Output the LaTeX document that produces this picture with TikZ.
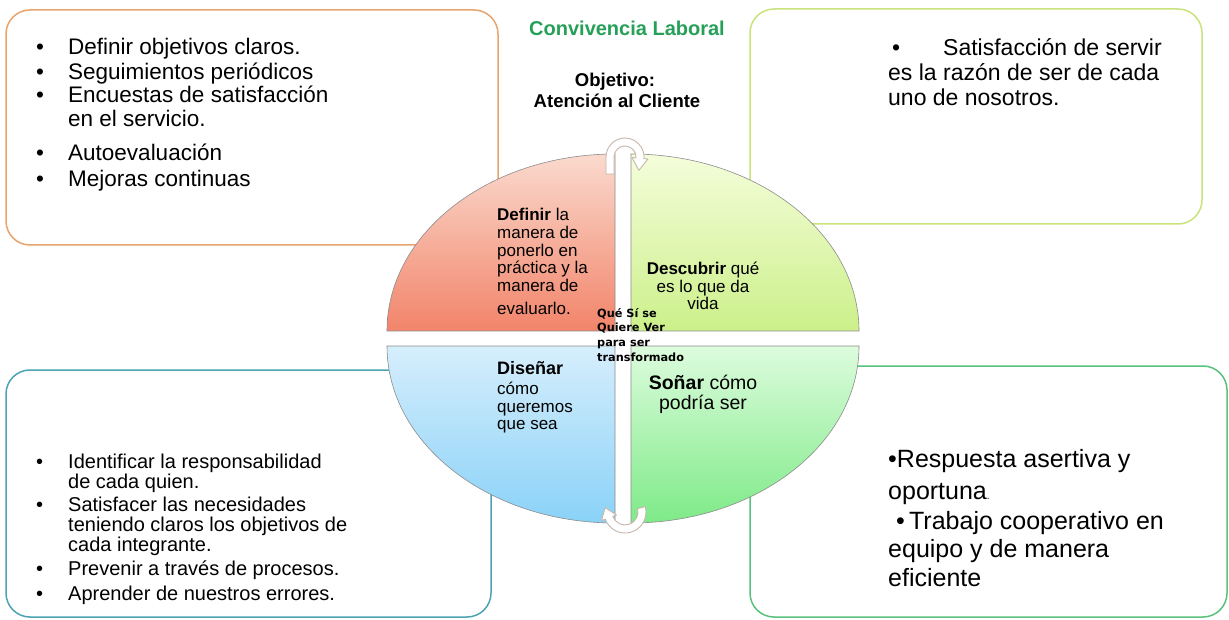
\documentclass[tikz,border=0pt]{standalone}
\usepackage{fontspec}
\setmainfont{Liberation Sans}
\newfontfamily\heavyfont{DejaVu Sans}
\definecolor{boxTL}{RGB}{233,163,108}
\definecolor{boxTR}{RGB}{201,227,122}
\definecolor{boxBL}{RGB}{75,163,179}
\definecolor{boxBR}{RGB}{88,194,124}
\definecolor{titlegreen}{RGB}{38,160,88}
\definecolor{qTLtop}{RGB}{250,218,206}
\definecolor{qTLbot}{RGB}{242,132,106}
\definecolor{qTRtop}{RGB}{244,253,218}
\definecolor{qTRbot}{RGB}{204,240,138}
\definecolor{qBLtop}{RGB}{214,238,252}
\definecolor{qBLbot}{RGB}{138,210,248}
\definecolor{qBRtop}{RGB}{221,252,221}
\definecolor{qBRbot}{RGB}{126,234,136}
\definecolor{qedge}{RGB}{140,140,140}
\definecolor{arrowedge}{RGB}{200,182,172}
\begin{document}
\begin{tikzpicture}[x=1pt,y=-1pt,
  panel/.style={line width=1.5pt, rounded corners=24pt},
  quad/.style={draw=qedge, line width=0.6pt},
  uarrow/.style={fill=white, draw=arrowedge, line width=0.9pt, line join=round},
  txt/.style={inner sep=0pt, anchor=mid west},
  ctxt/.style={inner sep=0pt, anchor=mid},
  bigA/.style={font=\fontsize{22.5}{26}\selectfont},
  bigB/.style={font=\fontsize{20}{24}\selectfont},
  bigC/.style={font=\fontsize{23}{27}\selectfont},
  bigD/.style={font=\fontsize{25}{29}\selectfont},
  qtxt/.style={font=\fontsize{17}{20}\selectfont},
]
\useasboundingbox (0,0) rectangle (1229,620);
\fill[white] (0,0) rectangle (1229,620);

% outer panels
\draw[panel, draw=boxTL] (6,10) rectangle (498,245);
\draw[panel, draw=boxTR] (750,9) rectangle (1202,224);
\draw[panel, draw=boxBL] (6,370) rectangle (491,617);
\draw[panel, draw=boxBR] (750,366) rectangle (1227,617);

% quadrants
\draw[quad, top color=qTLtop, bottom color=qTLbot]
  (615,331) -- (387,331) arc[start angle=180, end angle=90, x radius=228pt, y radius=177pt] -- cycle;
\draw[quad, top color=qTRtop, bottom color=qTRbot]
  (631,331) -- (631,154) arc[start angle=90, end angle=0, x radius=228pt, y radius=177pt] -- cycle;
\draw[quad, top color=qBLtop, bottom color=qBLbot]
  (615,346) -- (387,346) arc[start angle=180, end angle=270, x radius=228pt, y radius=177pt] -- cycle;
\draw[quad, top color=qBRtop, bottom color=qBRbot]
  (631,346) -- (631,523) arc[start angle=270, end angle=360, x radius=228pt, y radius=177pt] -- cycle;

% U-turn arrows
\draw[uarrow] (614,174) -- (606,174) -- (606,157)
  arc[start angle=180, end angle=-5, radius=19pt] -- (647.9,159.0) -- (638.9,170.3)
  -- (632.0,157.6) -- (636.0,158.0) arc[start angle=-5, end angle=180, radius=11pt] -- cycle;
\draw[uarrow] (645.3,506.6) arc[start angle=15, end angle=-160, radius=21pt]
  -- (601.5,520.6) -- (605.2,507.5) -- (616.5,515.1) -- (612.8,516.4)
  arc[start angle=-160, end angle=15, radius=13pt] -- cycle;

% titles
\node[ctxt, text=titlegreen, font=\fontsize{20}{24}\selectfont\bfseries] (title) at (627,33) {Convivencia Laboral};
\node[ctxt, font=\fontsize{18.5}{22}\selectfont\bfseries] (obj1) at (615,84) {Objetivo:};
\node[ctxt, font=\fontsize{18.5}{22}\selectfont\bfseries] (obj2) at (617,105) {Atención al Cliente};

% top-left panel
\foreach \n/\y in {a/52,b/77,c/100,d/158,e/184}
  \node[txt, bigA] (tlb\n) at (36,\y) {•};
\node[txt, bigA] (tl1) at (68,52) {Definir objetivos claros.};
\node[txt, bigA] (tl2) at (68,77) {Seguimientos periódicos};
\node[txt, bigA] (tl3) at (68,100) {Encuestas de satisfacción};
\node[txt, bigA] (tl4) at (68,124) {en el servicio.};
\node[txt, bigA] (tl5) at (68,158) {Autoevaluación};
\node[txt, bigA] (tl6) at (68,184) {Mejoras continuas};

% top-right panel
\node[txt, bigC] (trb) at (892,53) {•};
\node[txt, bigC] (tr1) at (943,53) {Satisfacción de servir};
\node[txt, bigC] (tr2) at (888,78) {es la razón de ser de cada};
\node[txt, bigC] (tr3) at (888,103) {uno de nosotros.};

% bottom-left panel
\foreach \n/\y in {a/466,b/509,c/573,d/598}
  \node[txt, bigB] (blb\n) at (36,\y) {•};
\node[txt, bigB] (bl1) at (68,466) {Identificar la responsabilidad};
\node[txt, bigB] (bl2) at (68,486) {de cada quien.};
\node[txt, bigB] (bl3) at (68,509) {Satisfacer las necesidades};
\node[txt, bigB] (bl4) at (68,529) {teniendo claros los objetivos de};
\node[txt, bigB] (bl5) at (68,549) {cada integrante.};
\node[txt, bigB] (bl6) at (68,573) {Prevenir a través de procesos.};
\node[txt, bigB] (bl7) at (68,598) {Aprender de nuestros errores.};

% bottom-right panel
\node[txt, bigD] (br1) at (888,465) {•Respuesta asertiva y};
\node[txt, bigD] (br2) at (888,497) {oportuna{\fontsize{10}{12}\selectfont.}};
\node[txt, bigD] (br3) at (896,527) {•\,Trabajo cooperativo en};
\node[txt, bigD] (br4) at (888,555) {equipo y de manera};
\node[txt, bigD] (br5) at (888,584) {eficiente};

% quadrant texts
\node[txt, qtxt] (q11) at (497,218) {\textbf{Definir} la};
\node[txt, qtxt] (q12) at (497,236) {manera de};
\node[txt, qtxt] (q13) at (497,254) {ponerlo en};
\node[txt, qtxt] (q14) at (497,271) {práctica y la};
\node[txt, qtxt] (q15) at (497,289) {manera de};
\node[txt, qtxt] (q16) at (497,312) {evaluarlo.};

\node[ctxt, qtxt] (q21) at (703,272) {\textbf{Descubrir} qué};
\node[ctxt, qtxt] (q22) at (703,290) {es lo que da};
\node[ctxt, qtxt] (q23) at (703,307) {vida};

\node[txt, qtxt, font=\fontsize{18}{21}\selectfont\bfseries] (q31) at (497,372) {Diseñar};
\node[txt, qtxt] (q32) at (497,392) {cómo};
\node[txt, qtxt] (q33) at (497,410) {queremos};
\node[txt, qtxt] (q34) at (497,427) {que sea};

\node[ctxt, font=\fontsize{19.5}{23}\selectfont] (q41) at (703,387) {\textbf{Soñar} cómo};
\node[ctxt, font=\fontsize{19.5}{23}\selectfont] (q42) at (703,407) {podría ser};

% centre label
\foreach \n/\t/\y in {1/Qué Sí se/315,2/Quiere Ver/329,3/para ser/344,4/transformado/359}
  \node[txt, font=\heavyfont\bfseries\fontsize{11.3}{13}\selectfont] (c\n) at (597,\y) {\t};
\end{tikzpicture}
\end{document}
